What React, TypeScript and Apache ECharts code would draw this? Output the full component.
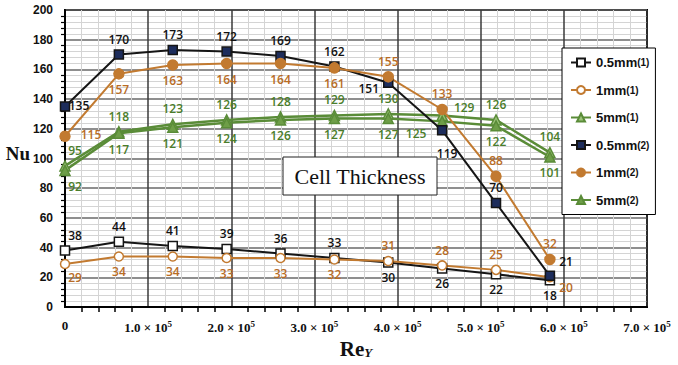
import React, { useEffect, useRef } from "react";
import * as echarts from "echarts";

const reValues = [0, 64800, 129600, 194400, 259200, 324000, 388800, 453600, 518400, 583200];
const seriesNames = ["0.5mm(1)", "1mm(1)", "5mm(1)", "0.5mm(2)", "1mm(2)", "5mm(2)"];
const nu05mm1 = [38, 44, 41, 39, 36, 33, 30, 26, 22, 18];
const nu1mm1 = [29, 34, 34, 33, 33, 32, 31, 28, 25, 20];
const nu5mm1 = [95, 118, 123, 126, 128, 129, 130, 129, 126, 104];
const nu05mm2 = [135, 170, 173, 172, 169, 162, 151, 119, 70, 21];
const nu1mm2 = [115, 157, 163, 164, 164, 161, 155, 133, 88, 32];
const nu5mm2 = [92, 117, 121, 124, 126, 127, 127, 125, 122, 101];
const yTicks = [0, 20, 40, 60, 80, 100, 120, 140, 160, 180, 200];
const yTitle = "Nu";

// label placement (style only)
type LP = [string, number, number];
const lp05mm1: LP[] = [["top", 10, 0], ["top", 0, 0], ["top", 0, 0], ["top", 0, 0], ["top", 0, 0], ["top", 0, 0], ["bottom", 0, 0], ["bottom", 0, 0], ["bottom", 0, 0], ["bottom", 0, 0]];
const lp1mm1: LP[] = [["bottom", 10, -2], ["bottom", 0, 0], ["bottom", 0, 0], ["bottom", 0, 0], ["bottom", 0, 0], ["bottom", 0, 0], ["top", 0, 0], ["top", 0, 0], ["top", 0, 0], ["right", 0, 10]];
const lp5mm1: LP[] = [["top", 10, 0], ["top", 0, 0], ["top", 0, 0], ["top", 0, 0], ["top", 0, 0], ["top", 0, 0], ["top", 0, 0], ["right", 2, -8], ["top", 0, 0], ["top", 0, 0]];
const lp05mm2: LP[] = [["top", 14, 14], ["top", 0, 0], ["top", 0, 0], ["top", 0, 0], ["top", 0, 0], ["top", 0, 0], ["left", 0, 6], ["bottom", 5, 8], ["top", 0, 0], ["right", 0, -14]];
const lp1mm2: LP[] = [["right", 6, -2], ["bottom", 0, 0], ["bottom", 0, 0], ["bottom", 0, 0], ["bottom", 0, 0], ["bottom", 0, 0], ["top", 0, 0], ["top", 0, 0], ["top", 0, 0], ["top", 0, 0]];
const lp5mm2: LP[] = [["bottom", 10, 0], ["bottom", 0, 0], ["bottom", 0, 0], ["bottom", 0, 0], ["bottom", 0, 0], ["bottom", 0, 0], ["bottom", 0, 0], ["left", -6, 12], ["bottom", 0, 0], ["bottom", 0, 0]];

const BLACK = "#151515";
const NAVY = "#1d2d5c";
const ORANGE = "#c27a30";
const ORANGE_TXT = "#b86c26";
const GREEN = "#5a8c38";
const GREEN_TXT = "#4a7d2a";

function makeData(vals: number[], lps: LP[]) {
  return vals.map((v, i) => ({
    value: [reValues[i], v],
    label: { position: lps[i][0], offset: [lps[i][1], lps[i][2]] },
  }));
}

function makeSeries(name: string, vals: number[], lps: LP[], opts: any) {
  return {
    type: "line",
    name,
    data: makeData(vals, lps),
    symbol: opts.symbol,
    symbolSize: opts.symbolSize,
    lineStyle: { color: opts.line, width: opts.lineWidth },
    itemStyle: { color: opts.fill, borderColor: opts.border, borderWidth: 1.5 },
    label: {
      show: true,
      color: opts.labelColor,
      fontSize: 12,
      fontWeight: 600,
      fontFamily: "Open Sans",
      distance: 4,
    },
    z: opts.z,
  };
}

export default function App() {
  const ref = useRef<HTMLDivElement>(null);
  useEffect(() => {
    const chart = echarts.init(ref.current!, null, { renderer: "svg" });
    const legendRich = {
      n: { fontSize: 13, fontWeight: "bold", fontFamily: "Liberation Sans", color: "#111" },
      s: { fontSize: 10, fontWeight: "bold", fontFamily: "Liberation Sans", color: "#111" },
    };
    chart.setOption({
      animation: false,
      backgroundColor: "#ffffff",
      grid: {
        left: 65,
        right: 31,
        top: 10,
        bottom: 58,
        outerBoundsMode: "none",
        containLabel: false,
        show: true,
        borderColor: "#000",
        borderWidth: 2,
      },
      legend: {
        orient: "vertical",
        left: 562,
        top: 48,
        width: 85,
        height: 170,
        padding: [8, 6, 8, 8],
        itemGap: 14.5,
        itemWidth: 20,
        itemHeight: 10,
        backgroundColor: "#fff",
        borderColor: "#000",
        borderWidth: 1,
        data: seriesNames,
        formatter: (name: string) => {
          const m = name.match(/^(.*)(\(\d\))$/);
          return m ? `{n|${m[1]}}{s|${m[2]}}` : name;
        },
        textStyle: { rich: legendRich },
      },
      xAxis: {
        type: "value",
        min: 0,
        max: 700000,
        interval: 100000,
        name: "Re{sub|Y}",
        nameLocation: "middle",
        nameGap: 30,
        nameTextStyle: {
          rich: {
            sub: { fontFamily: "Liberation Serif", fontStyle: "italic", fontWeight: "bold", fontSize: 13, padding: [8, 0, 0, 0], color: "#111" },
          },
          fontFamily: "Liberation Serif",
          fontWeight: "bold",
          fontSize: 21,
          color: "#111",
        },
        axisLine: { show: true, lineStyle: { color: "#000", width: 2 } },
        axisTick: { show: false },
        minorTick: { show: true, splitNumber: 5, length: 5, lineStyle: { color: "#000", width: 1.5 } },
        splitLine: { show: true, lineStyle: { color: "#3a3a3a", width: 1.5 } },
        minorSplitLine: { show: true, lineStyle: { color: "#d4d4d4", width: 1 } },
        axisLabel: {
          margin: 12,
          formatter: (v: number) => (v === 0 ? "{b|0}" : `{b|${(v / 100000).toFixed(1)} × 10}{sup|5}`),
          rich: {
            b: { fontFamily: "Liberation Serif", fontWeight: "bold", fontSize: 13, color: "#111" },
            sup: { fontFamily: "Liberation Serif", fontWeight: "bold", fontSize: 9, color: "#111", padding: [0, 0, 7, 0] },
          },
        },
      },
      yAxis: {
        type: "value",
        min: yTicks[0],
        max: yTicks[yTicks.length - 1],
        interval: 20,
        axisLine: { show: true, lineStyle: { color: "#000", width: 2 } },
        axisTick: { show: false },
        minorTick: { show: true, splitNumber: 5, length: 4, lineStyle: { color: "#000", width: 1.2 } },
        splitLine: { show: true, lineStyle: { color: "#6a6a6a", width: 1.5 } },
        minorSplitLine: { show: true, lineStyle: { color: "#d4d4d4", width: 1 } },
        axisLabel: { margin: 12, fontFamily: "Liberation Sans", fontWeight: "bold", fontSize: 12, color: "#111" },
      },
      series: [
        makeSeries(seriesNames[0], nu05mm1, lp05mm1, { symbol: "rect", symbolSize: 9, line: BLACK, lineWidth: 2, fill: "#fff", border: BLACK, labelColor: "#111", z: 3 }),
        makeSeries(seriesNames[1], nu1mm1, lp1mm1, { symbol: "circle", symbolSize: 9, line: ORANGE, lineWidth: 2, fill: "#fff", border: ORANGE, labelColor: ORANGE_TXT, z: 3 }),
        makeSeries(seriesNames[2], nu5mm1, lp5mm1, { symbol: "triangle", symbolSize: 10, line: GREEN, lineWidth: 2.5, fill: "#9cc47a", border: GREEN, labelColor: GREEN_TXT, z: 2 }),
        makeSeries(seriesNames[3], nu05mm2, lp05mm2, { symbol: "rect", symbolSize: 9, line: BLACK, lineWidth: 2, fill: NAVY, border: BLACK, labelColor: "#111", z: 4 }),
        makeSeries(seriesNames[4], nu1mm2, lp1mm2, { symbol: "circle", symbolSize: 10, line: ORANGE, lineWidth: 2, fill: ORANGE, border: ORANGE, labelColor: ORANGE_TXT, z: 4 }),
        makeSeries(seriesNames[5], nu5mm2, lp5mm2, { symbol: "triangle", symbolSize: 10, line: GREEN, lineWidth: 2.5, fill: "#6e9e48", border: GREEN, labelColor: GREEN_TXT, z: 2 }),
      ],
      graphic: [
        {
          type: "text",
          z: 50,
          x: 18,
          y: 153,
          style: {
            text: yTitle,
            fontFamily: "Liberation Serif",
            fontWeight: "bold",
            fontSize: 19,
            fill: "#111111",
            align: "center",
            verticalAlign: "middle",
          },
        },
        {
          type: "rect",
          z: 100,
          shape: { x: 283, y: 157, width: 154, height: 38 },
          style: { fill: "#ffffff", stroke: "#222222", lineWidth: 1 },
        },
        {
          type: "text",
          z: 101,
          x: 360,
          y: 176,
          style: {
            text: "Cell Thickness",
            fontFamily: "Liberation Serif",
            fontSize: 22,
            fill: "#111111",
            align: "center",
            verticalAlign: "middle",
          },
        },
      ],
    });
    return () => chart.dispose();
  }, []);
  return <div ref={ref} style={{ position: "absolute", left: 0, top: 0, width: 678, height: 365 }} />;
}
